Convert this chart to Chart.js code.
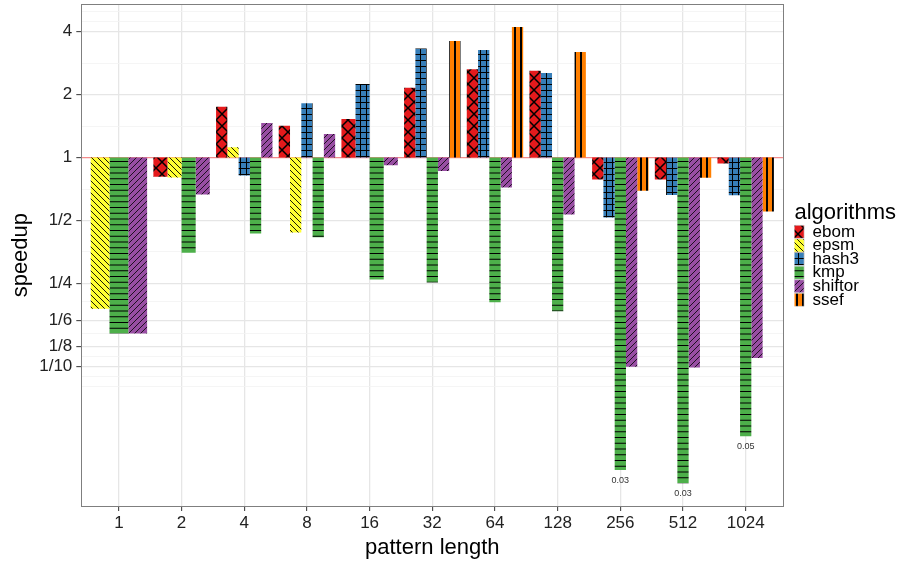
<!DOCTYPE html>
<html>
<head>
<meta charset="utf-8">
<script src="https://cdn.jsdelivr.net/npm/chart.js@4.4.0/dist/chart.umd.min.js"></script>
<style>
html,body{margin:0;padding:0;background:#fff;}
#wrap{width:901px;height:565px;}
</style>
</head>
<body>
<div id="wrap"><canvas id="c" width="901" height="565"></canvas></div>
<script>
// ---- data ----
const patternLengths = ['1','2','4','8','16','32','64','128','256','512','1024'];
const ebom    = [null, 0.81, 1.75, 1.42, 1.53, 2.16, 2.65, 2.60, 0.785, 0.785, 0.936];
const epsm    = [0.189, 0.803, 1.12, 0.438, null, null, null, null, null, null, null];
const hash3   = [null, null, 0.82, 1.82, 2.25, 3.33, 3.27, 2.54, 0.517, 0.663, 0.661];
const kmp     = [0.144, 0.351, 0.433, 0.416, 0.261, 0.253, 0.203, 0.184, 0.032, 0.0277, 0.0465];
const shiftor = [0.144, 0.666, 1.465, 1.298, 0.919, 0.864, 0.719, 0.534, 0.100, 0.099, 0.110];
const ssef    = [null, null, null, null, null, 3.61, 4.21, 3.20, 0.695, 0.80, 0.552];
const kmpLabels = [null, null, null, null, null, null, null, null, '0.03', '0.03', '0.05'];
const yTickValues = [4, 2, 1, 1/2, 1/4, 1/6, 1/8, 1/10];
const yTickLabels = ['4', '2', '1', '1/2', '1/4', '1/6', '1/8', '1/10'];

// ---- patterns ----
function makePattern(w, h, bg, draw) {
  const c = document.createElement('canvas');
  c.width = w; c.height = h;
  const g = c.getContext('2d');
  g.fillStyle = bg; g.fillRect(0, 0, w, h);
  g.strokeStyle = '#000'; g.fillStyle = '#000';
  draw(g, w, h);
  return g.createPattern(c, 'repeat');
}
const patterns = {
  ebom: makePattern(12, 12, '#E41A1C', (g) => {
    g.lineWidth = 1.5;
    g.beginPath(); g.moveTo(-1, -1); g.lineTo(13, 13); g.moveTo(13, -1); g.lineTo(-1, 13); g.stroke();
  }),
  epsm: makePattern(6, 6, '#FFFF33', (g) => {
    g.lineWidth = 0.9; g.beginPath();
    for (const k of [-6, 0, 6]) { g.moveTo(k, 0); g.lineTo(k + 6, 6); }
    g.stroke();
  }),
  hash3: makePattern(6, 6, '#377EB8', (g) => {
    g.fillRect(0, 0, 6, 1); g.fillRect(0, 0, 1, 6);
  }),
  kmp: makePattern(6, 23, '#4DAF4A', (g) => {
    for (let k = 0; k < 4; k++) g.fillRect(0, k * 5.75, 6, 1);
  }),
  shiftor: makePattern(6, 6, '#984EA3', (g) => {
    g.lineWidth = 0.8; g.beginPath();
    for (const k of [-6, 0, 6]) { g.moveTo(k, 6); g.lineTo(k + 6, 0); }
    g.stroke();
  }),
  ssef: makePattern(6, 6, '#FF7F00', (g) => { g.fillRect(4, 0, 2, 6); })
};

const series = [
  {label: 'ebom', values: ebom},
  {label: 'epsm', values: epsm},
  {label: 'hash3', values: hash3},
  {label: 'kmp', values: kmp},
  {label: 'shiftor', values: shiftor},
  {label: 'ssef', values: ssef}
];

// ---- y limits with ggplot-like 5% expansion in log2 space ----
const allVals = [].concat(ebom, epsm, hash3, kmp, shiftor, ssef).filter(v => v != null);
const lmin = Math.log2(Math.min(1, ...allVals));
const lmax = Math.log2(Math.max(1, ...allVals));
const ext = 0.05 * (lmax - lmin);
const yMin = Math.pow(2, lmin - ext), yMax = Math.pow(2, lmax + ext);

// major + minor breaks (ggplot regular_minor_breaks in transformed space)
const majorLogs = yTickValues.map(v => Math.log2(v)).sort((a, b) => a - b);
function minorLogs() {
  let b = majorLogs.slice();
  const bd = b[1] - b[0];
  if (lmin - ext < b[0]) b = [b[0] - bd].concat(b);
  if (lmax + ext > b[b.length - 1]) b = b.concat([b[b.length - 1] + bd]);
  const out = [];
  for (let i = 0; i < b.length - 1; i++) { out.push(b[i], (b[i] + b[i + 1]) / 2); }
  out.push(b[b.length - 1]);
  return out.filter(l => l >= lmin - ext && l <= lmax + ext && !majorLogs.some(m => Math.abs(m - l) < 1e-9));
}
const minorValues = minorLogs().map(l => Math.pow(2, l));
const isMajor = v => majorLogs.some(m => Math.abs(m - Math.log2(v)) < 1e-6);
const labelFor = v => {
  const i = yTickValues.findIndex(t => Math.abs(Math.log2(t) - Math.log2(v)) < 1e-6);
  return i >= 0 ? yTickLabels[i] : '';
};
const isOne = v => Math.abs(Math.log2(v)) < 1e-9;

Chart.defaults.font.family = "'Liberation Sans', Arial, Helvetica, sans-serif";
Chart.defaults.color = '#222';

const panelBorder = {
  id: 'panelBorder',
  afterDraw(chart) {
    const {ctx, chartArea: a} = chart;
    ctx.save();
    ctx.strokeStyle = '#7f7f7f'; ctx.lineWidth = 1;
    const l = Math.floor(a.left) + 0.5, r = Math.floor(a.right) + 0.5;
    const t = Math.floor(a.top) + 0.5, b = Math.floor(a.bottom) + 0.5;
    ctx.strokeRect(l, t, r - l, b - t);
    ctx.restore();
  }
};

const lowValueLabels = {
  id: 'lowValueLabels',
  afterDatasetsDraw(chart) {
    const di = chart.data.datasets.findIndex(d => d.label === 'kmp');
    const meta = chart.getDatasetMeta(di);
    const ctx = chart.ctx;
    ctx.save();
    ctx.font = "9px 'Liberation Sans', Arial, sans-serif";
    ctx.fillStyle = '#333'; ctx.textAlign = 'center'; ctx.textBaseline = 'middle';
    kmpLabels.forEach((t, i) => {
      if (!t) return;
      const el = meta.data[i];
      const yb = Math.max(el.y, el.base);
      ctx.fillText(t, el.x, yb + 10);
    });
    ctx.restore();
  }
};

const LEGEND_WIDTH = 106.5;
const zeroPad = s => { s.paddingTop = 0; s.paddingBottom = 0; s.paddingLeft = 0; s.paddingRight = 0; };

const chart = new Chart(document.getElementById('c'), {
  type: 'bar',
  data: {
    datasets: series.map(s => ({
      label: s.label,
      data: s.values.map((v, i) => ({x: i, y: v == null ? null : [1, v]})),
      backgroundColor: patterns[s.label],
      borderWidth: 0,
      yAxisID: 'y',
      xAxisID: 'x',
      skipNull: true,
      categoryPercentage: 0.9,
      barPercentage: 1.0
    }))
  },
  options: {
    responsive: false,
    animation: false,
    devicePixelRatio: 1,
    layout: {autoPadding: false, padding: {top: 4.3, right: 0, bottom: 0, left: 0}},
    scales: {
      x: {
        type: 'linear',
        min: -0.6,
        max: patternLengths.length - 1 + 0.6,
        bounds: 'data',
        offset: false,
        afterBuildTicks: s => { s.ticks = patternLengths.map((_, i) => ({value: i})); },
        afterFit: s => { s.height = 59; zeroPad(s); },
        ticks: {
          autoSkip: false, maxRotation: 0, minRotation: 0, padding: 2,
          font: {size: 17}, color: '#222',
          callback: v => patternLengths[v]
        },
        grid: {offset: false, color: '#e6e6e6', lineWidth: 1.3, tickColor: '#333', tickLength: 5, tickWidth: 1},
        border: {display: false},
        title: {display: true, text: 'pattern length', color: '#000', font: {size: 22}, padding: {top: 0, bottom: 4}}
      },
      y: {
        type: 'logarithmic',
        min: yMin,
        max: yMax,
        bounds: 'data',
        afterBuildTicks: s => {
          s.ticks = yTickValues.concat(minorValues).sort((a, b) => b - a).map(v => ({value: v}));
        },
        afterFit: s => { s.width = 81.3; zeroPad(s); },
        ticks: {autoSkip: false, padding: 4, font: {size: 17}, color: '#222', callback: v => labelFor(v)},
        grid: {
          color: c => (c.tick ? (isOne(c.tick.value) ? 'rgba(240,110,110,0.8)' : (isMajor(c.tick.value) ? '#e6e6e6' : '#f3f3f3')) : '#e6e6e6'),
          lineWidth: c => (c.tick && isMajor(c.tick.value) ? 1.3 : 0.8),
          tickColor: c => (c.tick && isMajor(c.tick.value) ? '#333' : 'rgba(0,0,0,0)'),
          tickLength: 5, tickWidth: 1
        },
        border: {display: false},
        title: {display: true, text: 'speedup', color: '#000', font: {size: 22}, padding: {top: 8, bottom: 0}}
      },
      gap: {
        type: 'linear', position: 'right', display: true,
        grid: {display: false, drawTicks: false}, border: {display: false},
        ticks: {display: false},
        afterFit: s => { s.width = 901 - LEGEND_WIDTH - 783.3; zeroPad(s); }
      }
    },
    plugins: {
      tooltip: {enabled: false},
      legend: {
        position: 'right', align: 'center', fullSize: false,
        title: {display: true, text: 'algorithms', color: '#000', font: {size: 22}, padding: {top: -3, bottom: -2}, position: 'start'},
        labels: {
          boxWidth: 13, boxHeight: 13, padding: -3.4, color: '#000', font: {size: 17},
          generateLabels: c => Chart.defaults.plugins.legend.labels.generateLabels(c)
            .map(it => Object.assign(it, {strokeStyle: '#d0d0d0', lineWidth: 0.6}))
        }
      }
    }
  },
  plugins: [panelBorder, lowValueLabels]
});

// make the legend box wide enough for its title so it is not clipped
const lg = chart.legend;
const origFit = lg.fit;
lg.fit = function () { origFit.call(this); this.width = LEGEND_WIDTH; };
chart.update();
</script>
</body>
</html>
